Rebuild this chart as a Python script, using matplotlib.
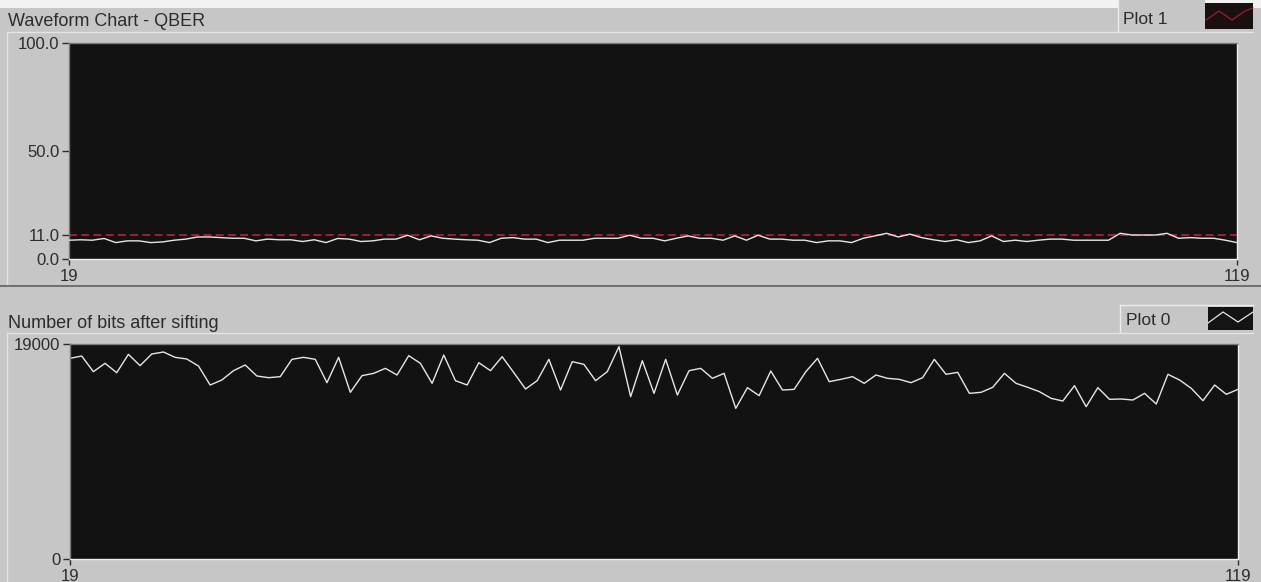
import numpy as np
import matplotlib
matplotlib.use("Agg")
import matplotlib.pyplot as plt
from matplotlib.patches import Rectangle
from matplotlib.lines import Line2D

# ---- data -------------------------------------------------------------
first_sample = 19
x_ticks = [19, 119]

qber = [8.7, 8.9, 8.7, 9.5, 7.6, 8.4, 8.4, 7.6, 7.9, 8.7,
        9.2, 10.2, 10.2, 9.9, 9.6, 9.6, 8.4, 9.2, 8.9, 8.9,
        8.1, 8.9, 7.6, 9.5, 9.2, 8.1, 8.4, 9.2, 9.2, 11.0,
        8.9, 10.7, 9.6, 9.2, 8.9, 8.7, 7.6, 9.6, 9.9, 9.2,
        9.2, 7.6, 8.7, 8.7, 8.7, 9.6, 9.6, 9.6, 11.0, 9.6,
        9.6, 8.4, 9.6, 10.7, 9.6, 9.6, 8.7, 10.7, 8.7, 11.0,
        9.2, 9.2, 8.7, 8.7, 7.6, 8.4, 8.4, 7.6, 9.6, 10.7,
        11.9, 10.2, 11.5, 9.9, 8.9, 8.1, 8.9, 7.6, 8.4, 10.7,
        8.1, 8.7, 8.1, 8.7, 9.2, 9.2, 8.7, 8.7, 8.7, 8.7,
        11.9, 11.1, 11.1, 11.1, 11.9, 9.6, 9.9, 9.6, 9.6, 8.7,
        7.6]
qber_threshold = 11.0
qber_yticks = [0, 11, 50, 100]
qber_yticklabels = ["0.0", "11.0", "50.0", "100.0"]

bits_after_sifting = [
    17733, 17939, 16555, 17291, 16466, 18086, 17085, 18116, 18293, 17821,
    17674, 17055, 15376, 15818, 16643, 17144, 16172, 16024, 16113, 17645,
    17821, 17645, 15582, 17821, 14728, 16201, 16407, 16849, 16260, 17969,
    17291, 15523, 18027, 15759, 15376, 17350, 16643, 17880, 16466, 15023,
    15759, 17645, 14934, 17438, 17203, 15759, 16555, 18764, 14345, 17527,
    14640, 17645, 14493, 16643, 16849, 15965, 16407, 13314, 15141, 14434,
    16614, 14934, 14993, 16555, 17733, 15671, 15877, 16113, 15523, 16260,
    15965, 15877, 15582, 16024, 17645, 16319, 16496, 14640, 14728, 15170,
    16407, 15523, 15170, 14787, 14198, 13962, 15317, 13461, 15141, 14110,
    14139, 14050, 14640, 13697, 16319, 15818, 15082, 13992, 15376, 14551,
    14993]
bits_yticks = [0, 19000]
bits_yticklabels = ["0", "19000"]

# ---- styling ----------------------------------------------------------
W, H = 1261, 582
BG = "#c6c6c6"
PLOT_BG = "#121212"
TEXT = "#2c2c2c"
TRACE = "#e6e6e6"
RED = "#d0203c"

plt.rcParams["font.family"] = ["Liberation Sans", "DejaVu Sans"]

fig = plt.figure(figsize=(W / 100, H / 100), dpi=100, facecolor=BG)


def fx(px):
    return px / W


def fy(py):
    return 1 - py / H


def rect(x0, y0, x1, y1, **kw):
    fig.add_artist(Rectangle((fx(x0), fy(y1)), fx(x1) - fx(x0), fy(y0) - fy(y1),
                             transform=fig.transFigure, **kw))


def seg(xs, ys, color, lw=0.75, **kw):
    fig.add_artist(Line2D([fx(v) for v in xs], [fy(v) for v in ys],
                          transform=fig.transFigure, color=color, lw=lw, **kw))


# window chrome: light strip on top, bevel lines, panel separator
rect(0, 0, W, 8, facecolor="#f2f2f2", edgecolor="none")
seg([7, 1253], [32, 32], "#e4e4e4", lw=1.0)
seg([7, 7], [32, 284], "#e4e4e4", lw=1.0)
seg([0, W], [286, 286], "#6e6e6e", lw=1.4)
seg([7, 1253], [333, 333], "#e4e4e4", lw=1.0)
seg([7, 7], [333, H], "#e4e4e4", lw=1.0)

# panel titles
fig.text(fx(8), fy(26.5), "Waveform Chart - QBER", fontsize=13,
         color=TEXT, va="baseline", ha="left")
fig.text(fx(8), fy(327.5), "Number of bits after sifting", fontsize=13,
         color=TEXT, va="baseline", ha="left")

# legend boxes with small trace swatches
rect(1118, 0, 1205, 31, facecolor=BG, edgecolor="none")
seg([1118, 1118], [0, 31], "#ececec", lw=1.0)
fig.text(fx(1123), fy(23.5), "Plot 1", fontsize=12.5, color=TEXT,
         va="baseline", ha="left")
rect(1205, 3, 1253, 29, facecolor="#1a1010", edgecolor="none")
seg([1206, 1219, 1232, 1245, 1253], [20, 11, 20, 11, 8], RED, lw=0.8, alpha=0.8)

rect(1120, 305, 1208, 332, facecolor=BG, edgecolor="none")
seg([1120, 1253], [305, 305], "#ececec", lw=1.0)
seg([1120, 1120], [305, 332], "#ececec", lw=1.0)
fig.text(fx(1126), fy(325), "Plot 0", fontsize=12.5, color=TEXT,
         va="baseline", ha="left")
rect(1208, 307, 1253, 330, facecolor="#141414", edgecolor="none")
seg([1208, 1223, 1238, 1253], [323, 312, 322, 312], TRACE, lw=0.9)


def make_axes(x0, y0, x1, y1):
    ax = fig.add_axes([fx(x0), fy(y1), fx(x1) - fx(x0), fy(y0) - fy(y1)])
    ax.set_facecolor(PLOT_BG)
    for side in ("top", "left"):
        ax.spines[side].set_color("#7a7a7a")
    for side in ("bottom", "right"):
        ax.spines[side].set_color("#efefef")
    for s in ax.spines.values():
        s.set_linewidth(1.0)
    ax.tick_params(axis="y", length=5, width=1, color=TEXT, pad=2,
                   labelsize=12, labelcolor=TEXT)
    ax.tick_params(axis="x", length=4, width=1, color=TEXT, pad=3,
                   labelsize=12, labelcolor=TEXT)
    return ax


samples = np.arange(first_sample, first_sample + len(qber))

# QBER chart
ax1 = make_axes(69, 43, 1237, 259)
ax1.axhline(qber_threshold, color=RED, lw=1.1, ls=(0, (5.2, 2.8)), zorder=2)
ax1.plot(samples, qber, color=TRACE, lw=1.0, zorder=3)
ax1.set_xlim(x_ticks[0], x_ticks[-1])
ax1.set_ylim(qber_yticks[0], qber_yticks[-1])
ax1.set_yticks(qber_yticks)
ax1.set_yticklabels(qber_yticklabels)
ax1.set_xticks(x_ticks)
ax1.set_xticklabels([str(t) for t in x_ticks])

# sifted-bits chart
samples_b = np.arange(first_sample, first_sample + len(bits_after_sifting))
ax2 = make_axes(70, 344, 1238, 559)
ax2.plot(samples_b, bits_after_sifting, color=TRACE, lw=1.0)
ax2.set_xlim(x_ticks[0], x_ticks[-1])
ax2.set_ylim(bits_yticks[0], bits_yticks[-1])
ax2.set_yticks(bits_yticks)
ax2.set_yticklabels(bits_yticklabels)
ax2.set_xticks(x_ticks)
ax2.set_xticklabels([str(t) for t in x_ticks])

fig.savefig("out.png", dpi=100, facecolor=BG)
